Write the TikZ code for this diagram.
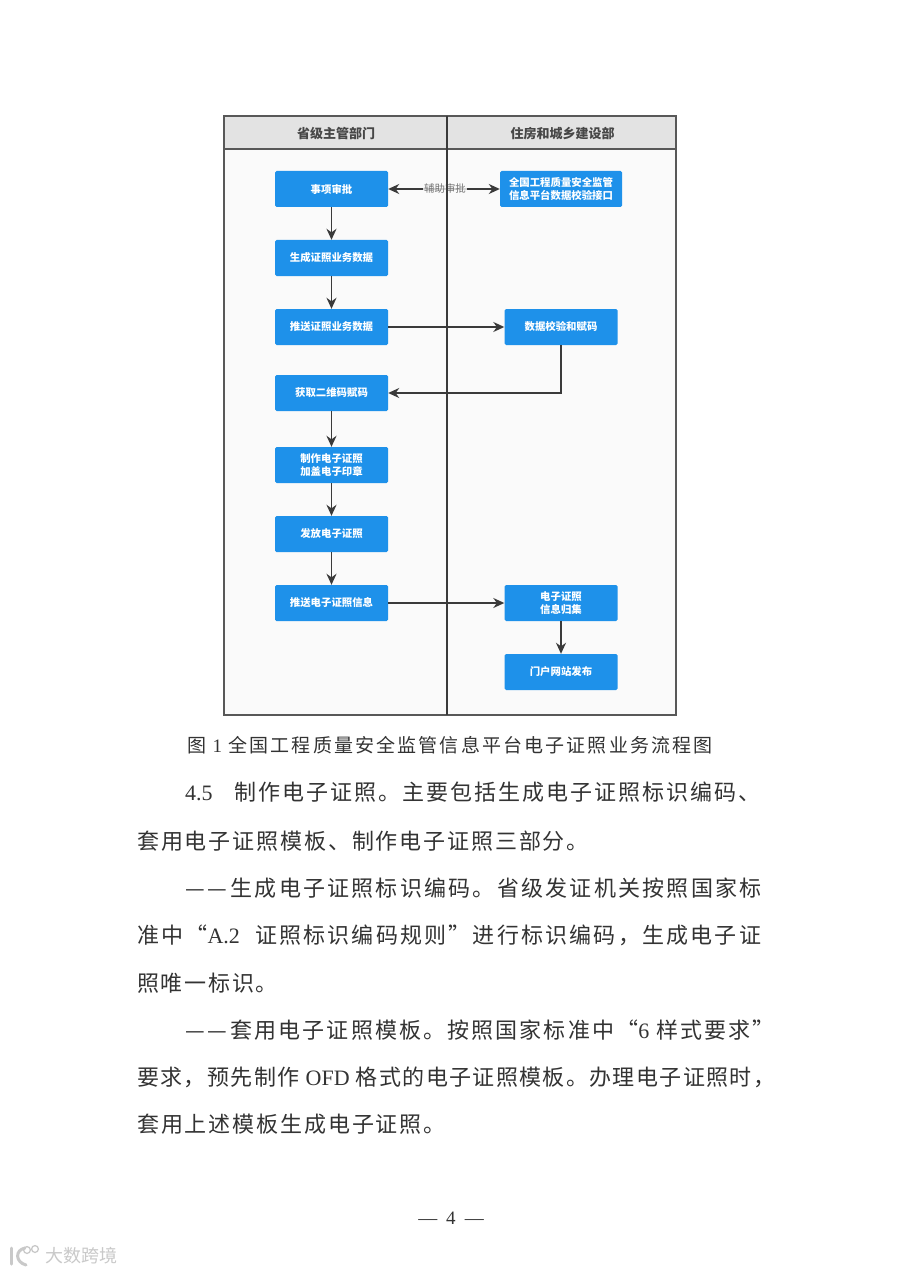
\documentclass[tikz,border=0pt]{standalone}
\usepackage{fontspec}
\setmainfont{Noto Sans CJK SC}
\newfontfamily\latinfont{Liberation Serif}
\usetikzlibrary{arrows.meta}
\definecolor{bluebox}{HTML}{1E91EA}
\definecolor{headgray}{HTML}{E3E3E3}
\definecolor{panel}{HTML}{FAFAFA}
\definecolor{framec}{HTML}{585858}
\definecolor{arrowc}{HTML}{3A3A3A}
\definecolor{inkc}{HTML}{333333}
\definecolor{wm}{HTML}{C9C9C9}
\newcommand{\spc}[1]{\addfontfeature{LetterSpace=#1}}
\newcommand{\twodash}{—\hspace{3pt}—\hspace{3pt}}
\tikzset{
  procbox/.style={fill=bluebox,rounded corners=1.5pt,text=white,align=center,inner sep=0pt,
    minimum width=113pt,minimum height=36pt,font=\fontsize{10.4}{12.5}\selectfont\bfseries},
  headlabel/.style={text=black!72,font=\fontsize{13}{15}\selectfont\bfseries,inner sep=0pt},
  flow/.style={draw=arrowc,line width=1.7pt,-{Stealth[length=11pt,width=10pt]}},
  bodyline/.style={anchor=base west,inner sep=0pt,text=inkc,font=\fontsize{22}{24}\selectfont},
  caption/.style={anchor=base west,inner sep=0pt,text=inkc,font=\fontsize{19}{22}\selectfont},
  wmtext/.style={text=wm,inner sep=0pt,font=\fontsize{18}{20}\selectfont}
}
\begin{document}
\begin{tikzpicture}[x=1pt,y=-1pt]
\useasboundingbox (0,0) rectangle (900,1273);
\fill[white] (0,0) rectangle (900,1273);
% frame
\fill[panel] (224,116) rectangle (676,715);
\fill[headgray] (224,116) rectangle (676,149);
\draw[framec,line width=1.8pt] (224,116) rectangle (676,715);
\draw[framec,line width=1.8pt] (224,149) -- (676,149);
\node[headlabel] (hl) at (336,134) {省级主管部门};
\node[headlabel] (hr) at (562.5,134) {住房和城乡建设部};
% boxes
\node[procbox] (a) at (331.5,189) {事项审批};
\node[procbox] (b) at (331.5,258) {生成证照业务数据};
\node[procbox] (c) at (331.5,327) {推送证照业务数据};
\node[procbox] (d) at (331.5,393) {获取二维码赋码};
\node[procbox] (e) at (331.5,465) {制作电子证照\\加盖电子印章};
\node[procbox] (f) at (331.5,534) {发放电子证照};
\node[procbox] (g) at (331.5,603) {推送电子证照信息};
\node[procbox,minimum width=122pt] (r) at (561,189) {全国工程质量安全监管\\信息平台数据校验接口};
\node[procbox] (s) at (561,327) {数据校验和赋码};
\node[procbox] (t) at (561,603) {电子证照\\信息归集};
\node[procbox] (u) at (561,672) {门户网站发布};
% connectors
\draw[flow,{Stealth[length=11pt,width=10pt]}-{Stealth[length=11pt,width=10pt]}] (a) -- (r);
\draw[flow] (a) -- (b);
\draw[flow] (b) -- (c);
\draw[flow] (c) -- (s);
\draw[flow] (s) |- (d);
\draw[flow] (d) -- (e);
\draw[flow] (e) -- (f);
\draw[flow] (f) -- (g);
\draw[flow] (g) -- (t);
\draw[flow] (t) -- (u);
\node[fill=panel,fill opacity=.8,text opacity=1,text=black!55,inner sep=1pt,font=\fontsize{10.4}{12}\selectfont] (lab) at (445,189) {辅助审批};
\draw[arrowc,line width=1.8pt] (447,116) -- (447,715);
% caption
\node[caption] (cap) at (187,752) {\spc{11.3}图 {\latinfont 1} 全国工程质量安全监管信息平台电子证照业务流程图};
% body
\node[bodyline] (l1) at (185,800) {\spc{9}{\latinfont 4.5}\hspace{15pt} 制作电子证照。主要包括生成电子证照标识编码、};
\node[bodyline] (l2) at (137,849) {\spc{8.5}套用电子证照模板、制作电子证照三部分。};
\node[bodyline] (l3) at (185,896) {\spc{10.2}\twodash 生成电子证照标识编码。省级发证机关按照国家标};
\node[bodyline] (l4) at (137,943) {\spc{10}准中“{\latinfont A.2}\hspace{8pt} 证照标识编码规则”进行标识编码，生成电子证};
\node[bodyline] (l5) at (137,991) {\spc{8}照唯一标识。};
\node[bodyline] (l6) at (185,1038) {\spc{9.6}\twodash 套用电子证照模板。按照国家标准中“{\latinfont 6} 样式要求”};
\node[bodyline] (l7) at (137,1085) {\spc{6.2}要求，预先制作 {\latinfont OFD} 格式的电子证照模板。办理电子证照时，};
\node[bodyline] (l8) at (137,1132) {\spc{8.5}套用上述模板生成电子证照。};
\node[anchor=center,inner sep=0pt,text=inkc,font=\fontsize{19}{22}\selectfont\latinfont] (pg) at (451,1218) {—\hspace{9pt}4\hspace{9pt}—};
% watermark
\node[wmtext,anchor=west] (w) at (45,1256) {大数跨境};
\draw[wm,line width=3pt,line cap=round] (11,1248) -- (11,1264);
\draw[wm,line width=3pt,line cap=round] (25,1248) .. controls (15,1250) and (15,1262) .. (26,1265);
\draw[wm,line width=1.3pt] (27,1250) circle (3.4);
\draw[wm,line width=1.3pt] (35,1249) circle (3.4);
\end{tikzpicture}
\end{document}
